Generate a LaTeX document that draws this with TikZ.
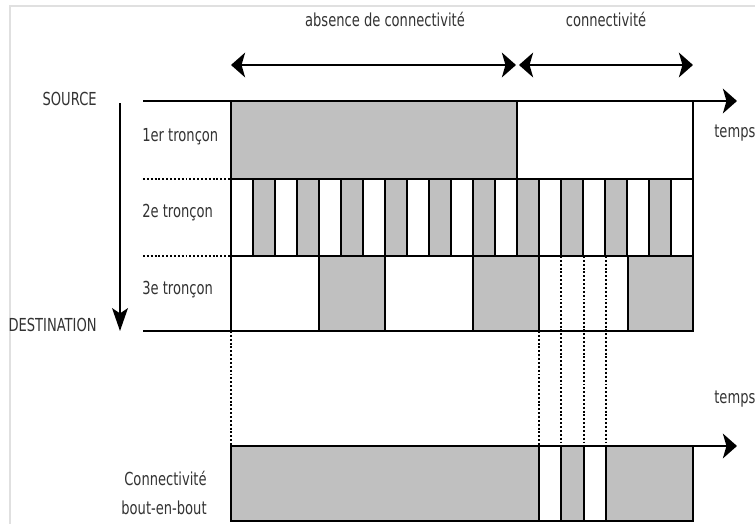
\documentclass[tikz,border=0pt]{standalone}
\usepackage{fontspec}
\setmainfont[FakeStretch=0.73]{DejaVu Sans}
\usetikzlibrary{arrows.meta,positioning}
\definecolor{slotgray}{RGB}{192,192,192}
\definecolor{inkgray}{RGB}{51,51,51}

\begin{document}
\begin{tikzpicture}[
   x=0.02cm, y=-0.02cm,
   lbl/.style={font=\fontsize{10.2}{17}\selectfont, text=inkgray, inner sep=0pt},
   timeaxis/.style={-{Stealth[length=8pt,width=14pt,inset=2pt]}, line width=1.6pt},
   period/.style={{Stealth[length=8pt,width=14pt,inset=2pt]}-{Stealth[length=8pt,width=14pt,inset=2pt]}, line width=1.5pt},
   edge/.style={line width=1.6pt},
   free/.style={draw, line width=1.2pt, fill=white},
   busy/.style={draw, line width=1.2pt, fill=slotgray},
   guide/.style={line width=1pt, dash pattern=on 1.1pt off 1.1pt}
]
% Frame
\clip (0,0) rectangle (755,524);
\fill[white] (0,0) rectangle (755,524);
\draw[black!12, line width=0.8pt] (10,6) rectangle (780,560);

% Phases
\node[lbl] (absent) at (385,19) {absence de connectivité};
\node[lbl] (present) at (606,19) {connectivité};
\coordinate (p0) at (231,65);
\coordinate (p1) at (516,65);
\coordinate (p2) at (519,65);
\coordinate (p3) at (693,65);
\draw[period] (p0) -- (p1);
\draw[period] (p2) -- (p3);

% 1er troncon
\path[busy] (231,101) rectangle (517,179);
\path[free] (517,101) rectangle (693,179);

% 2e troncon
\foreach \i in {0,2,...,20}
   \path[free] (231+22*\i,179) rectangle (253+22*\i,256);
\foreach \i in {1,3,...,19}
   \path[busy] (231+22*\i,179) rectangle (253+22*\i,256);

% 3e troncon
\path[free] (231,256) rectangle (319,331);
\path[busy] (319,256) rectangle (385,331);
\path[free] (385,256) rectangle (473,331);
\path[busy] (473,256) rectangle (539,331);
\path[free] (539,256) rectangle (628,331);
\path[busy] (628,256) rectangle (693,331);

% Connectivite bout-en-bout
\path[busy] (231,446) rectangle (539,521);
\path[free] (539,446) rectangle (561,521);
\path[busy] (561,446) rectangle (584,521);
\path[free] (584,446) rectangle (606,521);
\path[busy] (606,446) rectangle (693,521);

% Guides
\foreach \x in {561,584,606}
   \draw[guide] (\x,256) -- (\x,446);
\foreach \x in {231,539}
   \draw[guide] (\x,331) -- (\x,446);
\draw[guide] (143,179) -- (231,179);
\draw[guide] (143,256) -- (231,256);

% Axes
\coordinate (t0) at (143,101);
\coordinate (t1) at (737,101);
\coordinate (d0) at (143,331);
\coordinate (d1) at (693,331);
\coordinate (b0) at (231,446);
\coordinate (b1) at (737,446);
\coordinate (e0) at (231,521);
\coordinate (e1) at (693,521);
\draw[timeaxis] (t0) -- (t1);
\draw[edge] (d0) -- (d1);
\draw[timeaxis] (b0) -- (b1);
\draw[edge] (e0) -- (e1);
\coordinate (src) at (120,103);
\coordinate (dst) at (120,331);
\draw[-{Stealth[length=13pt,width=9pt,inset=3pt]}, line width=1.1pt] (src) -- (dst);

% Labels
\node[lbl, anchor=east] (source) at (97,99) {SOURCE};
\node[lbl, anchor=east] (dest) at (97,325) {DESTINATION};
\node[lbl, anchor=west] (r1) at (142,137) {1er tronçon};
\node[lbl, anchor=west] (r2) at (142,213) {2e tronçon};
\node[lbl, anchor=west] (r3) at (142,290) {3e tronçon};
\node[lbl, anchor=west] (time1) at (714,133) {temps};
\node[lbl, anchor=west] (time2) at (714,399) {temps};
\node[lbl, anchor=east, align=right] (e2e) at (207,493) {Connectivité\\bout-en-bout};
\end{tikzpicture}
\end{document}
